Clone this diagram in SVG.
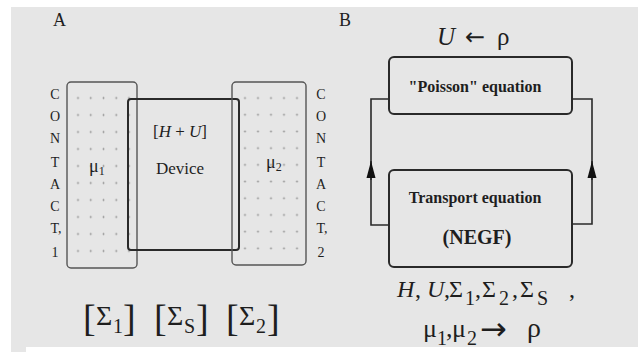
<svg xmlns="http://www.w3.org/2000/svg" width="638" height="352" viewBox="0 0 638 352">
<style>
text{font-family:"Liberation Serif","DejaVu Serif",serif;fill:#1e1e1e}
.lab{font-size:14px;text-anchor:middle}
.box{fill:none;stroke:#2a2a2a;stroke-width:2}
.cbox{fill:none;stroke:#555;stroke-width:1.4}
.it{font-style:italic}
.b{font-weight:bold}
.ar{font-family:"DejaVu Sans",sans-serif}
.conn{fill:none;stroke:#2a2a2a;stroke-width:1.6}
</style>
<defs>
<pattern id="dotsL" patternUnits="userSpaceOnUse" x="71.6" y="89.5" width="12.75" height="17">
<circle cx="6.4" cy="8.5" r="0.9" fill="#8a8a8a"/>
</pattern>
<pattern id="dotsR" patternUnits="userSpaceOnUse" x="238.5" y="89.7" width="13" height="16.7">
<circle cx="6.5" cy="8.35" r="0.9" fill="#8a8a8a"/>
</pattern>
<marker id="arr" viewBox="0 0 17 10" refX="17" refY="5" markerWidth="17" markerHeight="10" markerUnits="userSpaceOnUse" orient="auto">
<path d="M17 5 L0 0.5 L0 9.5 Z" fill="#111"/>
</marker>
</defs>
<rect x="11" y="7" width="627" height="345" fill="#e6e6e6"/>
<rect x="26" y="347" width="612" height="5" fill="#ffffff"/>

<g id="panelA">
<text x="53" y="26" font-size="18">A</text>
<g id="contact1">
<rect x="72" y="90" width="63" height="170" fill="url(#dotsL)"/>
<rect class="cbox" x="67" y="82" width="70" height="186" rx="4"/>
<text x="89" y="172" font-size="18">μ<tspan font-size="12" dy="3">1</tspan></text>
</g>
<g id="device">
<rect class="box" x="128" y="99" width="111" height="151" rx="3" stroke-width="1.6"/>
<text x="180" y="137" font-size="17" text-anchor="middle">[<tspan class="it">H</tspan> + <tspan class="it">U</tspan>]</text>
<text x="180" y="174" font-size="17" text-anchor="middle">Device</text>
</g>
<g id="contact2">
<rect x="239" y="90" width="65" height="167" fill="url(#dotsR)"/>
<rect class="cbox" x="232" y="82" width="74" height="183" rx="4"/>
<text x="266" y="168" font-size="18">μ<tspan font-size="12" dy="3">2</tspan></text>
</g>
<g id="labels1">
<text class="lab" x="55" y="99">C</text>
<text class="lab" x="55" y="121">O</text>
<text class="lab" x="55" y="143">N</text>
<text class="lab" x="55" y="167">T</text>
<text class="lab" x="55" y="189">A</text>
<text class="lab" x="55" y="211">C</text>
<text class="lab" x="56" y="233">T,</text>
<text class="lab" x="55" y="257">1</text>
</g>
<g id="labels2">
<text class="lab" x="321" y="99">C</text>
<text class="lab" x="321" y="121">O</text>
<text class="lab" x="321" y="143">N</text>
<text class="lab" x="321" y="167">T</text>
<text class="lab" x="321" y="189">A</text>
<text class="lab" x="321" y="211">C</text>
<text class="lab" x="322" y="233">T,</text>
<text class="lab" x="321" y="257">2</text>
</g>
<g id="sigmas">
<text y="331" font-size="38"><tspan x="83">[</tspan><tspan x="96" y="325" font-size="28">Σ</tspan><tspan x="113" y="333" font-size="20">1</tspan><tspan x="123" y="331">]</tspan></text>
<text y="331" font-size="38"><tspan x="154">[</tspan><tspan x="167" y="325" font-size="28">Σ</tspan><tspan x="184" y="333" font-size="20">S</tspan><tspan x="196" y="331">]</tspan></text>
<text y="331" font-size="38"><tspan x="226">[</tspan><tspan x="239" y="325" font-size="28">Σ</tspan><tspan x="256" y="333" font-size="20">2</tspan><tspan x="267" y="331">]</tspan></text>
</g>
</g>

<g id="panelB">
<text x="339" y="26" font-size="18">B</text>
<text y="45" font-size="25"><tspan x="437" class="it">U</tspan><tspan x="465" class="ar" font-size="24">←</tspan><tspan x="497">ρ</tspan></text>
<g id="poisson">
<rect class="box" x="389" y="57" width="183" height="57" rx="5"/>
<text class="b" x="475" y="92" font-size="16" text-anchor="middle">"Poisson" equation</text>
</g>
<g id="transport">
<rect class="box" x="389" y="170" width="183" height="97" rx="5"/>
<text class="b" x="475" y="203" font-size="16" text-anchor="middle">Transport equation</text>
<text class="b" x="477" y="244" font-size="20" text-anchor="middle">(NEGF)</text>
</g>
<g id="connectors">
<path class="conn" d="M389 225 H371 V99 H389"/>
<path class="conn" d="M572 224 H592 V99 H572"/>
<path d="M371 180 L371 161" class="conn" marker-end="url(#arr)"/>
<path d="M592 180 L592 161" class="conn" marker-end="url(#arr)"/>
</g>
<text id="eq1" y="297" font-size="24"><tspan x="397" class="it">H</tspan><tspan x="415">,</tspan><tspan x="427" class="it">U</tspan><tspan x="444">,</tspan><tspan x="449">Σ</tspan><tspan x="465" y="305" font-size="20">1</tspan><tspan x="475" y="297">,</tspan><tspan x="482">Σ</tspan><tspan x="499" y="305" font-size="20">2</tspan><tspan x="512" y="297">,</tspan><tspan x="520">Σ</tspan><tspan x="537" y="305" font-size="20">S</tspan><tspan x="569" y="297">,</tspan></text>
<text id="eq2" y="337" font-size="26"><tspan x="423">μ</tspan><tspan x="437" y="345" font-size="20">1</tspan><tspan x="446" y="337">,</tspan><tspan x="452">μ</tspan><tspan x="467" y="345" font-size="20">2</tspan><tspan x="480" y="340" class="ar" font-size="32">→</tspan><tspan x="527" y="337" font-size="28">ρ</tspan></text>
</g>
</svg>
